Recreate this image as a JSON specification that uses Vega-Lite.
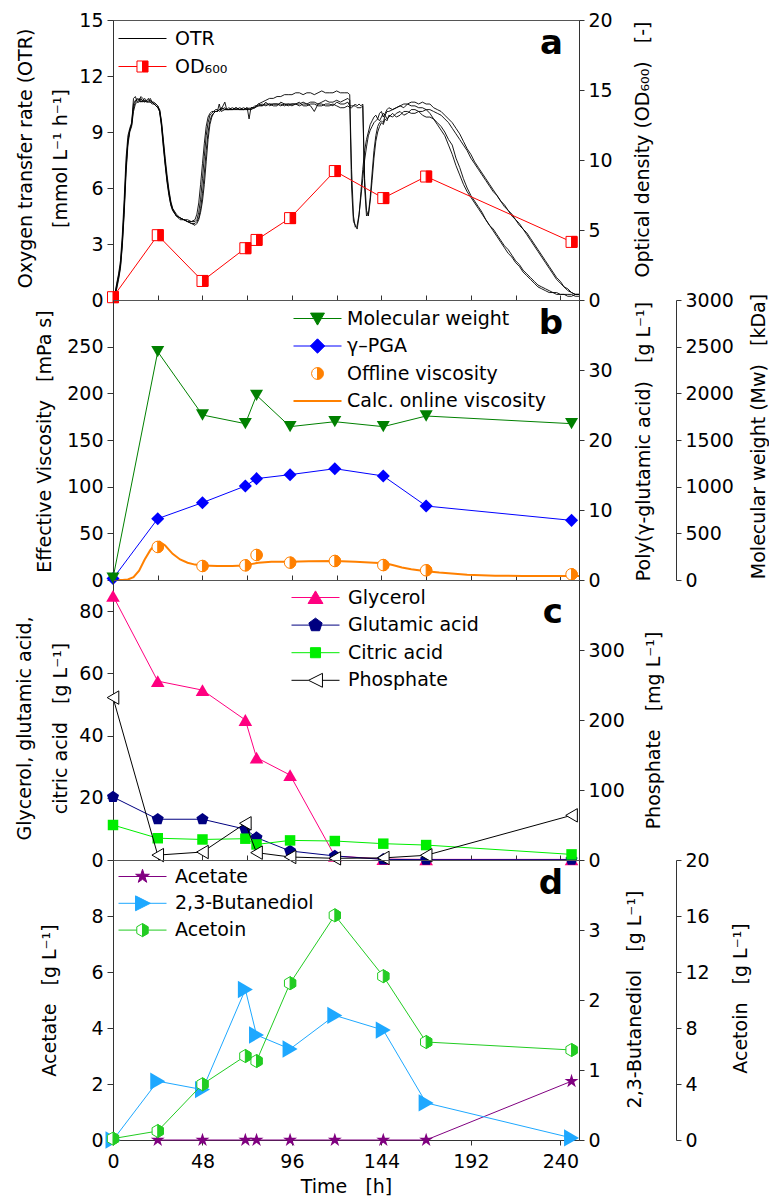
{
"$schema":"https://vega.github.io/schema/vega-lite/v6.json",
"background":"white",
"padding":{"left":14,"top":10,"right":0,"bottom":0},
"bounds":"flush",
"spacing":0,
"resolve":{"scale":{"color":"independent"}},
"config":{
 "font":"DejaVu Sans",
 "view":{"stroke":"#555555","strokeWidth":1},
 "axis":{"labelFont":"DejaVu Sans","titleFont":"DejaVu Sans","labelFontSize":19,"titleFontSize":19,"titleFontWeight":"normal","labelColor":"#000000","titleColor":"#000000","domainColor":"#333333","tickColor":"#333333","grid":false,"tickSize":6,"labelPadding":4,"labelFlush":false,"labelOverlap":false,"labelBound":false},
 "legend":{"labelFont":"DejaVu Sans","labelFontSize":19,"labelColor":"#000000","labelLimit":400,"symbolSize":576,"symbolStrokeWidth":1,"labelOffset":32,"padding":0,"rowPadding":8},
 "title":{"font":"DejaVu Sans","color":"#000000"}
},
"datasets":{
 "otr":[
{"t":0,"a":0.1,"b":0.1,"c":0.1,"d":0.1},{"t":1,"a":0.3,"b":0.2,"c":0.3,"d":0.2},{"t":2,"a":0.8,"b":0.6,"c":0.9,"d":0.7},{"t":3,"a":1.3,"b":1.1,"c":1.4,"d":1.2},{"t":4,"a":1.9,"b":1.7,"c":2.1,"d":1.8},{"t":5,"a":3.2,"b":2.9,"c":3.5,"d":3.0},{"t":6,"a":5.0,"b":4.6,"c":5.4,"d":4.8},{"t":7,"a":7.2,"b":6.8,"c":7.6,"d":7.0},{"t":8,"a":8.5,"b":8.3,"c":8.8,"d":8.5},{"t":9,"a":9.1,"b":9.0,"c":9.2,"d":9.1},{"t":10,"a":9.4,"b":9.3,"c":9.5,"d":9.4},{"t":11,"a":10.3,"b":10.1,"c":10.5,"d":10.8},{"t":12,"a":10.6,"b":10.5,"c":10.7,"d":10.9},{"t":13,"a":10.8,"b":10.6,"c":10.7,"d":10.6},{"t":14,"a":10.7,"b":10.6,"c":10.8,"d":10.7},{"t":15,"a":10.6,"b":10.8,"c":10.6,"d":10.9},{"t":16,"a":10.7,"b":10.6,"c":10.7,"d":10.8},{"t":17,"a":10.6,"b":10.7,"c":10.8,"d":10.6},{"t":18,"a":10.7,"b":10.6,"c":10.6,"d":10.7},{"t":19,"a":10.8,"b":10.6,"c":10.7,"d":10.6},{"t":20,"a":10.6,"b":10.6,"c":10.8,"d":10.7},{"t":21,"a":10.6,"b":10.5,"c":10.6,"d":10.6},{"t":22,"a":10.5,"b":10.5,"c":10.6,"d":10.5},{"t":23,"a":10.5,"b":10.4,"c":10.5,"d":10.4},{"t":24,"a":10.4,"b":10.3,"c":10.4,"d":10.3},{"t":25,"a":10.1,"b":10.2,"c":10.2,"d":10.1},{"t":26,"a":9.3,"b":9.6,"c":9.5,"d":9.4},{"t":27,"a":8.2,"b":8.6,"c":8.5,"d":8.3},{"t":28,"a":7.2,"b":7.6,"c":7.4,"d":7.3},{"t":29,"a":6.3,"b":6.7,"c":6.5,"d":6.4},{"t":30,"a":5.6,"b":5.9,"c":5.8,"d":5.7},{"t":31,"a":5.1,"b":5.3,"c":5.2,"d":5.1},{"t":32,"a":4.8,"b":4.9,"c":4.9,"d":4.8},{"t":34,"a":4.5,"b":4.6,"c":4.5,"d":4.5},{"t":36,"a":4.4,"b":4.4,"c":4.4,"d":4.3},{"t":38,"a":4.3,"b":4.3,"c":4.3,"d":4.3},{"t":40,"a":4.2,"b":4.3,"c":4.2,"d":4.2},{"t":42,"a":4.2,"b":4.2,"c":4.1,"d":4.1},{"t":44,"a":4.3,"b":4.2,"c":4.1,"d":4.0},{"t":45,"a":4.6,"b":4.3,"c":4.2,"d":4.1},{"t":46,"a":5.2,"b":4.7,"c":4.4,"d":4.3},{"t":47,"a":6.2,"b":5.4,"c":4.9,"d":4.7},{"t":48,"a":7.3,"b":6.5,"c":5.7,"d":5.3},{"t":49,"a":8.4,"b":7.7,"c":6.8,"d":6.2},{"t":50,"a":9.3,"b":8.8,"c":8.0,"d":7.4},{"t":51,"a":9.8,"b":9.5,"c":9.0,"d":8.6},{"t":52,"a":10.0,"b":9.9,"c":9.6,"d":9.4},{"t":53,"a":10.1,"b":10.0,"c":9.9,"d":9.8},{"t":54,"a":10.1,"b":10.1,"c":10.0,"d":10.0},{"t":55,"a":10.2,"b":10.1,"c":10.1,"d":10.1},{"t":56,"a":10.2,"b":10.1,"c":10.1,"d":10.1},{"t":57,"a":10.1,"b":10.2,"c":10.5,"d":10.2},{"t":58,"a":10.2,"b":10.3,"c":10.1,"d":10.2},{"t":60,"a":10.3,"b":10.2,"c":10.2,"d":10.6},{"t":61,"a":10.2,"b":10.2,"c":10.2,"d":10.2},{"t":62,"a":10.2,"b":10.2,"c":10.3,"d":10.2},{"t":64,"a":10.2,"b":10.3,"c":10.2,"d":10.2},{"t":66,"a":10.3,"b":10.2,"c":10.2,"d":10.3},{"t":68,"a":10.2,"b":10.2,"c":10.3,"d":10.2},{"t":70,"a":10.2,"b":10.3,"c":10.2,"d":10.2},{"t":72,"a":10.3,"b":10.2,"c":10.2,"d":10.3},{"t":73,"a":10.2,"b":10.3,"c":10.2,"d":9.7},{"t":74,"a":10.2,"b":10.2,"c":10.3,"d":10.3},{"t":76,"a":10.4,"b":10.3,"c":10.3,"d":10.3},{"t":78,"a":10.4,"b":10.4,"c":10.5,"d":10.5},{"t":80,"a":10.5,"b":10.4,"c":10.4,"d":10.6},{"t":82,"a":10.4,"b":10.6,"c":10.5,"d":10.7},{"t":84,"a":10.5,"b":10.4,"c":10.5,"d":10.8},{"t":86,"a":10.5,"b":10.5,"c":10.4,"d":10.8},{"t":88,"a":10.5,"b":10.5,"c":10.4,"d":10.9},{"t":90,"a":10.4,"b":10.5,"c":10.6,"d":10.9},{"t":92,"a":10.5,"b":10.4,"c":10.5,"d":11.0},{"t":94,"a":10.5,"b":10.5,"c":10.4,"d":11.0},{"t":96,"a":10.4,"b":10.5,"c":10.5,"d":11.0},{"t":98,"a":10.5,"b":10.5,"c":10.5,"d":11.1},{"t":100,"a":10.5,"b":10.4,"c":10.6,"d":11.1},{"t":102,"a":10.6,"b":10.5,"c":10.4,"d":11.0},{"t":104,"a":10.5,"b":10.5,"c":10.4,"d":11.1},{"t":106,"a":10.6,"b":10.4,"c":10.5,"d":11.1},{"t":108,"a":10.6,"b":10.1,"c":10.5,"d":11.0},{"t":110,"a":10.5,"b":10.5,"c":10.4,"d":11.1},{"t":112,"a":10.6,"b":10.5,"c":10.4,"d":11.2},{"t":114,"a":10.7,"b":10.4,"c":10.5,"d":11.1},{"t":116,"a":10.6,"b":10.4,"c":10.5,"d":11.1},{"t":118,"a":10.6,"b":10.5,"c":10.4,"d":11.1},{"t":120,"a":10.7,"b":10.4,"c":10.6,"d":11.2},{"t":122,"a":10.6,"b":10.3,"c":10.5,"d":11.1},{"t":124,"a":10.7,"b":10.3,"c":10.5,"d":11.1},{"t":126,"a":10.8,"b":10.4,"c":10.6,"d":11.1},{"t":127,"a":10.7,"b":10.3,"c":10.4,"d":11.0},{"t":128,"a":6.0,"b":10.3,"c":10.4,"d":7.0},{"t":129,"a":4.2,"b":10.4,"c":10.4,"d":4.5},{"t":130,"a":4.0,"b":10.4,"c":10.5,"d":3.9},{"t":131,"a":3.8,"b":10.3,"c":10.4,"d":4.0},{"t":132,"a":4.5,"b":10.3,"c":10.5,"d":4.6},{"t":133,"a":5.8,"b":10.3,"c":10.4,"d":5.5},{"t":134,"a":7.0,"b":10.4,"c":10.5,"d":6.5},{"t":135,"a":8.0,"b":6.0,"c":6.5,"d":7.5},{"t":136,"a":8.6,"b":4.5,"c":4.8,"d":8.2},{"t":137,"a":9.0,"b":4.6,"c":4.5,"d":8.8},{"t":138,"a":9.4,"b":5.5,"c":5.3,"d":9.1},{"t":139,"a":9.6,"b":6.8,"c":6.4,"d":9.3},{"t":140,"a":9.8,"b":8.0,"c":7.6,"d":9.5},{"t":141,"a":9.9,"b":8.8,"c":8.5,"d":9.6},{"t":142,"a":9.7,"b":9.3,"c":9.0,"d":9.7},{"t":143,"a":10.0,"b":9.5,"c":9.3,"d":9.6},{"t":144,"a":10.1,"b":9.6,"c":9.5,"d":9.8},{"t":145,"a":9.8,"b":9.5,"c":9.4,"d":10.0},{"t":146,"a":10.0,"b":9.9,"c":9.7,"d":9.9},{"t":147,"a":10.2,"b":9.7,"c":9.6,"d":10.1},{"t":148,"a":10.3,"b":9.8,"c":9.9,"d":10.1},{"t":150,"a":10.2,"b":10.0,"c":9.8,"d":10.2},{"t":152,"a":10.3,"b":9.8,"c":10.0,"d":10.3},{"t":154,"a":10.4,"b":9.9,"c":10.1,"d":10.4},{"t":156,"a":10.3,"b":10.1,"c":9.9,"d":10.5},{"t":158,"a":10.5,"b":10.1,"c":10.0,"d":10.5},{"t":160,"a":10.4,"b":10.0,"c":10.2,"d":10.6},{"t":162,"a":10.4,"b":10.0,"c":10.2,"d":10.6},{"t":164,"a":10.3,"b":10.1,"c":10.1,"d":10.5},{"t":166,"a":10.3,"b":9.9,"c":10.1,"d":10.6},{"t":168,"a":10.2,"b":9.8,"c":10.2,"d":10.5},{"t":170,"a":10.0,"b":9.8,"c":10.2,"d":10.5},{"t":172,"a":9.7,"b":9.7,"c":10.1,"d":10.3},{"t":174,"a":9.4,"b":9.5,"c":10.0,"d":10.2},{"t":176,"a":9.1,"b":9.3,"c":9.9,"d":10.1},{"t":178,"a":8.8,"b":9.0,"c":9.7,"d":9.9},{"t":180,"a":8.3,"b":8.6,"c":9.5,"d":9.7},{"t":182,"a":7.8,"b":8.3,"c":9.2,"d":9.5},{"t":184,"a":7.2,"b":7.6,"c":8.9,"d":9.2},{"t":186,"a":6.7,"b":7.1,"c":8.6,"d":8.9},{"t":188,"a":6.2,"b":6.5,"c":8.3,"d":8.5},{"t":190,"a":5.8,"b":6.0,"c":8.0,"d":8.1},{"t":192,"a":5.5,"b":5.6,"c":7.6,"d":7.8},{"t":194,"a":5.2,"b":5.3,"c":7.3,"d":7.4},{"t":196,"a":4.9,"b":5.0,"c":7.0,"d":7.1},{"t":198,"a":4.6,"b":4.7,"c":6.7,"d":6.8},{"t":200,"a":4.3,"b":4.3,"c":6.4,"d":6.5},{"t":202,"a":4.0,"b":4.0,"c":6.1,"d":6.2},{"t":204,"a":3.7,"b":3.8,"c":5.8,"d":5.9},{"t":206,"a":3.4,"b":3.5,"c":5.6,"d":5.6},{"t":208,"a":3.1,"b":3.2,"c":5.3,"d":5.3},{"t":210,"a":2.8,"b":2.9,"c":5.1,"d":5.0},{"t":212,"a":2.5,"b":2.7,"c":4.8,"d":4.8},{"t":214,"a":2.3,"b":2.4,"c":4.6,"d":4.5},{"t":216,"a":2.0,"b":2.1,"c":4.3,"d":4.3},{"t":218,"a":1.8,"b":1.9,"c":4.1,"d":4.0},{"t":220,"a":1.5,"b":1.6,"c":3.8,"d":3.8},{"t":222,"a":1.3,"b":1.4,"c":3.6,"d":3.5},{"t":224,"a":1.1,"b":1.2,"c":3.3,"d":3.2},{"t":226,"a":0.9,"b":1.0,"c":3.0,"d":2.9},{"t":228,"a":0.7,"b":0.8,"c":2.7,"d":2.6},{"t":230,"a":0.6,"b":0.7,"c":2.4,"d":2.3},{"t":232,"a":0.5,"b":0.6,"c":2.1,"d":2.0},{"t":234,"a":0.4,"b":0.5,"c":1.8,"d":1.7},{"t":236,"a":0.4,"b":0.4,"c":1.5,"d":1.4},{"t":238,"a":0.3,"b":0.4,"c":1.2,"d":1.1},{"t":240,"a":0.3,"b":0.3,"c":1.0,"d":0.9},{"t":242,"a":0.3,"b":0.3,"c":0.7,"d":0.7},{"t":244,"a":0.2,"b":0.3,"c":0.5,"d":0.6},{"t":246,"a":0.2,"b":0.3,"c":0.4,"d":0.4},{"t":248,"a":0.3,"b":0.2,"c":0.3,"d":0.3},{"t":250,"a":0.3,"b":0.2,"c":0.3,"d":0.3}
 ],
 "od":[{"t":0,"od":0.2},{"t":24,"od":4.63},{"t":48,"od":1.36},{"t":71,"od":3.7},{"t":77,"od":4.29},{"t":95,"od":5.85},{"t":119,"od":9.21},{"t":145,"od":7.28},{"t":168,"od":8.82},{"t":246,"od":4.15}],
 "pb":[{"t":0,"mw":20,"pga":0.2,"visc":null},{"t":24,"mw":2446,"pga":8.76,"visc":35.4},{"t":48,"mw":1768,"pga":11.05,"visc":15},{"t":71,"mw":1675,"pga":13.43,"visc":15.7},{"t":77,"mw":1979,"pga":14.48,"visc":26.8},{"t":95,"mw":1643,"pga":15.05,"visc":18.6},{"t":119,"mw":1696,"pga":15.9,"visc":20.4},{"t":145,"mw":1643,"pga":14.86,"visc":16},{"t":168,"mw":1757,"pga":10.57,"visc":10.4},{"t":246,"mw":1675,"pga":8.52,"visc":6.1}],
 "onl":[{"t":0,"visc":0},{"t":5,"visc":0},{"t":8,"visc":0.5},{"t":11,"visc":3},{"t":14,"visc":10},{"t":17,"visc":22},{"t":20,"visc":32},{"t":23,"visc":39},{"t":25,"visc":41},{"t":28,"visc":37},{"t":32,"visc":28},{"t":36,"visc":22},{"t":40,"visc":18.5},{"t":44,"visc":16.5},{"t":48,"visc":15.5},{"t":56,"visc":15},{"t":64,"visc":15},{"t":70,"visc":15.5},{"t":74,"visc":17},{"t":78,"visc":18.5},{"t":85,"visc":19.5},{"t":95,"visc":19.5},{"t":105,"visc":20},{"t":119,"visc":20.4},{"t":130,"visc":19.5},{"t":140,"visc":18.5},{"t":146,"visc":18},{"t":150,"visc":16},{"t":155,"visc":13.5},{"t":160,"visc":11.5},{"t":168,"visc":9.5},{"t":175,"visc":8},{"t":190,"visc":5.5},{"t":205,"visc":4.6},{"t":220,"visc":4.3},{"t":246,"visc":4.3},{"t":250,"visc":4.3}],
 "pc":[{"t":0,"gly":84.9,"glu":20.25,"cit":11.25,"pho":232},{"t":24,"gly":57.5,"glu":13.1,"cit":7.0,"pho":7},{"t":48,"gly":54.6,"glu":13.1,"cit":6.6,"pho":11.4},{"t":71,"gly":45,"glu":9.9,"cit":6.85,"pho":52.4},{"t":77,"gly":32.9,"glu":7.2,"cit":5.0,"pho":10.5},{"t":95,"gly":27.3,"glu":2.9,"cit":6.3,"pho":4.3},{"t":119,"gly":1.3,"glu":1.3,"cit":6.1,"pho":2.4},{"t":145,"gly":0.3,"glu":0.2,"cit":5.25,"pho":3},{"t":168,"gly":0.2,"glu":0.1,"cit":4.8,"pho":6.7},{"t":246,"gly":0.2,"glu":0.1,"cit":1.8,"pho":63.8}],
 "pd":[{"t":0,"ace":null,"btd":0,"acn":0.1},{"t":24,"ace":0,"btd":0.84,"acn":0.64},{"t":48,"ace":0,"btd":0.72,"acn":3.98},{"t":71,"ace":0,"btd":2.15,"acn":6.0},{"t":77,"ace":0,"btd":1.5,"acn":5.64},{"t":95,"ace":0,"btd":1.3,"acn":11.2},{"t":119,"ace":0,"btd":1.78,"acn":16.05},{"t":145,"ace":0,"btd":1.57,"acn":11.7},{"t":168,"ace":0,"btd":0.53,"acn":7.0},{"t":246,"ace":2.1,"btd":0.03,"acn":6.43}]
},
"vconcat":[
{
 "width":466,"height":280,
 "title":{"text":"a","anchor":"end","frame":"group","offset":-50,"dx":-16,"fontSize":34,"fontWeight":"bold","color":"#000000"},
 "encoding":{"x":{"field":"t","type":"quantitative","scale":{"domain":[0,250],"nice":false,"zero":false},"axis":{"orient":"bottom","values":[0,24,48,72,96,120,144,168,192,216,240],"labels":false,"domain":false,"tickSize":-5,"title":null}}},
 "layer":[
  {"data":{"name":"otr"},"transform":[{"fold":["a","b","c","d"],"as":["rep","otr"]}],
   "mark":{"type":"line","strokeWidth":0.9},
   "encoding":{
    "y":{"field":"otr","type":"quantitative","scale":{"domain":[0,15],"nice":false},"axis":{"orient":"left","values":[0,3,6,9,12,15],"title":["Oxygen transfer rate (OTR)","[mmol L⁻¹ h⁻¹]"],"titleX":-88,"titleY":138,"titleBaseline":"middle","titleLineHeight":35}},
    "detail":{"field":"rep"},
    "color":{"datum":"OTR","scale":{"domain":["OTR","OD₆₀₀"],"range":["#000000","#ff0000"]},
     "legend":{"title":null,"orient":"none","legendX":5,"legendY":6,"rowPadding":5,
      "encode":{"symbols":{"update":{
        "shape":{"signal":"datum.index==0 ? 'M-1,0H3' : 'M-1,0H0.54M1.46,0H3M0.54,-0.46H1M0.54,-0.46V0.46M0.54,0.46H1M1,-0.46H1.46V0.46H1Z'"},
        "fill":{"signal":"datum.index==0 ? 'transparent' : '#ff0000'"},
        "size":{"value":576},"strokeWidth":{"value":1},"opacity":{"value":1}}}}}}
   }},
  {"data":{"name":"od"},
   "encoding":{"y":{"field":"od","type":"quantitative","scale":{"domain":[0,20],"nice":false},"axis":{"orient":"right","values":[0,5,10,15,20],"title":"Optical density (OD₆₀₀)\u00a0\u00a0 [-]","titleAngle":270,"titleX":63,"titleY":129,"titleBaseline":"middle","tickSize":5}}},
   "layer":[
    {"mark":{"type":"line","strokeWidth":1},"encoding":{"color":{"datum":"OD₆₀₀"}}},
    {"mark":{"type":"point","shape":"square","filled":true,"fill":"#ffffff","stroke":"#ff0000","strokeWidth":1,"size":121,"opacity":1}},
    {"mark":{"type":"point","shape":"M0,-1H1V1H0Z","filled":true,"fill":"#ff0000","stroke":"#ff0000","strokeWidth":1,"size":121,"opacity":1}}
   ]}
 ],
 "resolve":{"scale":{"y":"independent"}}
},
{
 "width":466,"height":280,
 "data":{"name":"pb"},
 "title":{"text":"b","anchor":"end","frame":"group","offset":-50,"dx":-16,"fontSize":34,"fontWeight":"bold","color":"#000000"},
 "encoding":{"x":{"field":"t","type":"quantitative","scale":{"domain":[0,250],"nice":false,"zero":false},"axis":{"orient":"bottom","values":[0,24,48,72,96,120,144,168,192,216,240],"labels":false,"domain":false,"tickSize":-5,"title":null}}},
 "layer":[
  {"encoding":{"y":{"field":"visc","type":"quantitative","scale":{"domain":[0,300],"nice":false},"axis":{"orient":"left","values":[0,50,100,150,200,250],"title":"Effective Viscosity\u00a0\u00a0 [mPa s]","titleX":-69,"titleY":141,"titleBaseline":"middle"}}},
   "layer":[
    {"data":{"name":"onl"},"mark":{"type":"line","strokeWidth":2},
     "encoding":{"color":{"datum":"Calc. online viscosity","scale":{"domain":["Molecular weight","γ–PGA","Offline viscosity","Calc. online viscosity"],"range":["#008000","#0000ff","#ff8000","#ff8000"]},
      "legend":{"title":null,"orient":"none","legendX":183,"legendY":9,"rowPadding":7.5,
       "encode":{"symbols":{"update":{
        "shape":{"signal":"datum.index==0 ? 'M-1,0H3M0.42,-0.45L1.58,-0.45L1,0.55Z' : datum.index==1 ? 'M-1,0H3M1,-0.6L1.6,0L1,0.6L0.4,0Z' : datum.index==2 ? 'M1,0.5L0.75,0.433M0.75,0.433L0.567,0.25M0.567,0.25L0.5,0M0.5,0L0.567,-0.25M0.567,-0.25L0.75,-0.433M0.75,-0.433L1,-0.5M1,-0.5A0.5,0.5 0 0 1 1,0.5Z' : 'M-1,0H3'"},
        "fill":{"signal":"datum.index==0 ? '#008000' : datum.index==1 ? '#0000ff' : datum.index==2 ? '#ff8000' : 'transparent'"},
        "strokeWidth":{"signal":"datum.index==3 ? 2 : 1"},
        "size":{"value":576},"opacity":{"value":1}}}}}}}},
    {"mark":{"type":"point","shape":"circle","filled":true,"fill":"#ffffff","stroke":"#ff8000","strokeWidth":1,"size":132,"opacity":1}},
    {"mark":{"type":"point","shape":"M0,-1A1,1 0 0 1 0,1Z","filled":true,"fill":"#ff8000","stroke":"#ff8000","strokeWidth":1,"size":132,"opacity":1},"encoding":{"color":{"datum":"Offline viscosity"}}}
   ]},
  {"encoding":{"y":{"field":"pga","type":"quantitative","scale":{"domain":[0,40],"nice":false},"axis":{"orient":"right","values":[0,10,20,30],"title":"Poly(γ-glutamic acid)\u00a0\u00a0 [g L⁻¹]","titleAngle":270,"titleX":64,"titleY":141,"titleBaseline":"middle","tickSize":5}},"color":{"datum":"γ–PGA"}},
   "mark":{"type":"line","strokeWidth":1,"point":{"shape":"diamond","filled":true,"size":170,"opacity":1}}},
  {"encoding":{"y":{"field":"mw","type":"quantitative","scale":{"domain":[0,3000],"nice":false},"axis":{"orient":"right","offset":97,"values":[0,500,1000,1500,2000,2500,3000],"format":"d","title":"Molecular weight (Mw)\u00a0\u00a0 [kDa]","titleAngle":270,"titleX":82,"titleY":136,"titleBaseline":"middle","tickSize":5}},"color":{"datum":"Molecular weight"}},
   "mark":{"type":"line","strokeWidth":1,"point":{"shape":"triangle-down","filled":true,"size":170,"opacity":1}}}
 ],
 "resolve":{"scale":{"y":"independent"}}
},
{
 "width":466,"height":280,
 "data":{"name":"pc"},
 "title":{"text":"c","anchor":"end","frame":"group","offset":-50,"dx":-16,"fontSize":34,"fontWeight":"bold","color":"#000000"},
 "encoding":{"x":{"field":"t","type":"quantitative","scale":{"domain":[0,250],"nice":false,"zero":false},"axis":{"orient":"bottom","values":[0,24,48,72,96,120,144,168,192,216,240],"labels":false,"domain":false,"tickSize":-5,"title":null}}},
 "layer":[
  {"layer":[
    {"encoding":{"y":{"field":"gly","type":"quantitative","scale":{"domain":[0,90],"nice":false},"axis":{"orient":"left","values":[0,20,40,60,80],"title":["Glycerol, glutamic acid,\u00a0\u00a0\u00a0","\u00a0\u00a0\u00a0citric acid\u00a0\u00a0 [g L⁻¹]"],"titleX":-89,"titleY":148,"titleBaseline":"middle","titleLineHeight":36}},
      "color":{"datum":"Glycerol","scale":{"domain":["Glycerol","Glutamic acid","Citric acid","Phosphate"],"range":["#ff0080","#000080","#00ee00","#000000"]},
       "legend":{"title":null,"orient":"none","legendX":178,"legendY":5,"rowPadding":4.6,
        "encode":{"symbols":{"update":{
         "shape":{"signal":"datum.index==0 ? 'M-1,0H3M1,-0.55L1.62,0.5L0.38,0.5Z' : datum.index==1 ? 'M-1,0H3M1,-0.58L1.552,-0.179L1.341,0.469L0.659,0.469L0.448,-0.179Z' : datum.index==2 ? 'M-1,0H3M0.58,-0.42H1.42V0.42H0.58Z' : 'M-1,0H0.42M1.58,0H3M0.42,0L1.58,-0.58M1.58,-0.58L1.58,0.58M1.58,0.58L0.42,0'"},
         "fill":{"signal":"datum.index==0 ? '#ff0080' : datum.index==1 ? '#000080' : datum.index==2 ? '#00ee00' : 'transparent'"},
         "size":{"value":576},"strokeWidth":{"value":1},"opacity":{"value":1}}}}}}},
     "mark":{"type":"line","strokeWidth":1,"point":{"shape":"triangle-up","filled":true,"size":185,"opacity":1}}},
    {"encoding":{"y":{"field":"glu","type":"quantitative"},"color":{"datum":"Glutamic acid"}},
     "mark":{"type":"line","strokeWidth":1,"point":{"shape":"M0,-1L0.951,-0.309L0.588,0.809L-0.588,0.809L-0.951,-0.309Z","filled":true,"size":160,"opacity":1}}},
    {"encoding":{"y":{"field":"cit","type":"quantitative"},"color":{"datum":"Citric acid"}},
     "mark":{"type":"line","strokeWidth":1,"point":{"shape":"square","filled":true,"size":110,"opacity":1}}}
  ]},
  {"encoding":{"y":{"field":"pho","type":"quantitative","scale":{"domain":[0,400],"nice":false},"axis":{"orient":"right","values":[0,100,200,300],"title":"Phosphate\u00a0\u00a0 [mg L⁻¹]","titleAngle":270,"titleX":74,"titleY":150,"titleBaseline":"middle","tickSize":5}}},
   "layer":[
    {"mark":{"type":"line","strokeWidth":1},"encoding":{"color":{"datum":"Phosphate"}}},
    {"mark":{"type":"point","shape":"triangle-left","filled":true,"fill":"#ffffff","stroke":"#000000","strokeWidth":1,"size":180,"opacity":1}}
   ]}
 ],
 "resolve":{"scale":{"y":"independent"}}
},
{
 "width":466,"height":280,
 "data":{"name":"pd"},
 "title":{"text":"d","anchor":"end","frame":"group","offset":-50,"dx":-16,"fontSize":34,"fontWeight":"bold","color":"#000000"},
 "encoding":{"x":{"field":"t","type":"quantitative","scale":{"domain":[0,250],"nice":false,"zero":false},"axis":{"orient":"bottom","values":[0,48,96,144,192,240],"title":"Time\u00a0\u00a0 [h]","tickSize":5,"labelPadding":7,"titlePadding":6}}},
 "layer":[
  {"encoding":{"y":{"field":"ace","type":"quantitative","scale":{"domain":[0,10],"nice":false},"axis":{"orient":"left","values":[0,2,4,6,8],"title":"Acetate\u00a0\u00a0 [g L⁻¹]","titleX":-64,"titleY":140,"titleBaseline":"middle"}},
    "color":{"datum":"Acetate","scale":{"domain":["Acetate","2,3-Butanediol","Acetoin"],"range":["#800080","#1ea8ff","#22cc22"]},
     "legend":{"title":null,"orient":"none","legendX":5,"legendY":4,"rowPadding":3.8,
      "encode":{"symbols":{"update":{
       "shape":{"signal":"datum.index==0 ? 'M-1,0H3M1,-0.6L1.135,-0.185L1.571,-0.185L1.218,0.071L1.353,0.485L1,0.229L0.647,0.485L0.782,0.071L0.429,-0.185L0.865,-0.185Z' : datum.index==1 ? 'M-1,0H3M0.42,-0.62L1.65,0L0.42,0.62Z' : 'M-1,0H0.524M1.476,0H3M1,-0.55L0.524,-0.275M0.524,-0.275L0.524,0.275M0.524,0.275L1,0.55M1,-0.55L1.476,-0.275L1.476,0.275L1,0.55Z'"},
       "fill":{"signal":"datum.index==0 ? '#800080' : datum.index==1 ? '#1ea8ff' : '#22cc22'"},
       "size":{"value":576},"strokeWidth":{"value":1},"opacity":{"value":1}}}}}}},
   "mark":{"type":"line","strokeWidth":1,"point":{"shape":"M0,-1L0.225,-0.309L0.951,-0.309L0.363,0.118L0.588,0.809L0,0.382L-0.588,0.809L-0.363,0.118L-0.951,-0.309L-0.225,-0.309Z","filled":true,"size":216,"opacity":1}}},
  {"encoding":{"y":{"field":"btd","type":"quantitative","scale":{"domain":[0,4],"nice":false},"axis":{"orient":"right","values":[0,1,2,3],"title":"2,3-Butanediol\u00a0\u00a0 [g L⁻¹]","titleAngle":270,"titleX":55,"titleY":139,"titleBaseline":"middle","tickSize":5}},"color":{"datum":"2,3-Butanediol"}},
   "mark":{"type":"line","strokeWidth":1,"point":{"shape":"triangle-right","filled":true,"size":300,"opacity":1}}},
  {"encoding":{"y":{"field":"acn","type":"quantitative","scale":{"domain":[0,20],"nice":false},"axis":{"orient":"right","offset":97,"values":[0,4,8,12,16,20],"title":"Acetoin\u00a0\u00a0 [g L⁻¹]","titleAngle":270,"titleX":64,"titleY":138,"titleBaseline":"middle","tickSize":5}}},
   "layer":[
    {"mark":{"type":"line","strokeWidth":1},"encoding":{"color":{"datum":"Acetoin"}}},
    {"mark":{"type":"point","shape":"M0,-1L0.866,-0.5L0.866,0.5L0,1L-0.866,0.5L-0.866,-0.5Z","filled":true,"fill":"#ffffff","stroke":"#22cc22","strokeWidth":1,"size":169,"opacity":1}},
    {"mark":{"type":"point","shape":"M0,-1L0.866,-0.5L0.866,0.5L0,1Z","filled":true,"fill":"#22cc22","stroke":"#22cc22","strokeWidth":1,"size":169,"opacity":1}}
   ]}
 ],
 "resolve":{"scale":{"y":"independent"}}
}
]
}
